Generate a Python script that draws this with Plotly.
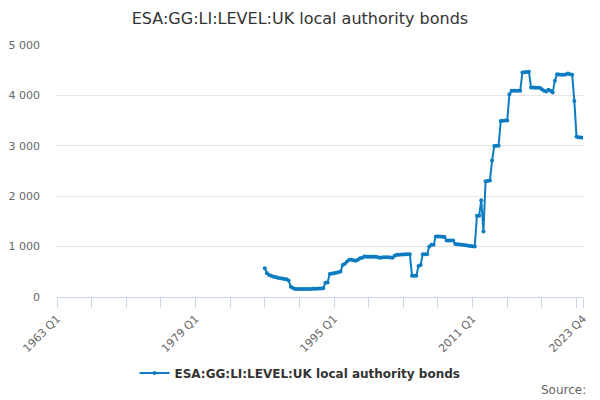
import plotly.graph_objects as go

# Quarter categories 1963 Q1 .. 2023 Q4
years = list(range(1963, 2024))
quarters = [f"{y} Q{q}" for y in years for q in range(1, 5)]

series_name = "ESA:GG:LI:LEVEL:UK local authority bonds"
start_label = "1987 Q1"

# Quarterly values from 1987 Q1 to 2023 Q4
v1987 = [572, 472, 438, 420]
v1988 = [404, 395, 380, 372]
v1989 = [365, 358, 352, 325]
v1990 = [205, 180, 159, 159]
v1991 = [158, 158, 158, 158]
v1992 = [160, 160, 162, 162]
v1993 = [165, 168, 170, 172]
v1994 = [285, 290, 458, 465]
v1995 = [472, 480, 490, 504]
v1996 = [637, 660, 703, 737]
v1997 = [737, 730, 717, 740]
v1998 = [771, 780, 803, 800]
v1999 = [800, 800, 800, 800]
v2000 = [795, 780, 785, 788]
v2001 = [790, 791, 785, 780]
v2002 = [820, 837, 840, 842]
v2003 = [845, 848, 850, 850]
v2004 = [424, 424, 424, 617]
v2005 = [637, 850, 850, 850]
v2006 = [1003, 1036, 1036, 1202]
v2007 = [1200, 1200, 1195, 1190]
v2008 = [1122, 1122, 1122, 1122]
v2009 = [1050, 1045, 1040, 1036]
v2010 = [1030, 1025, 1016, 1010]
v2011 = [1005, 1003, 1614, 1614]
v2012 = [1919, 1301, 2297, 2300]
v2013 = [2311, 2709, 2994, 3000]
v2014 = [3000, 3492, 3495, 3500]
v2015 = [3500, 4024, 4090, 4090]
v2016 = [4090, 4090, 4090, 4456]
v2017 = [4460, 4465, 4470, 4157]
v2018 = [4155, 4152, 4150, 4150]
v2019 = [4120, 4090, 4078, 4110]
v2020 = [4090, 4058, 4289, 4422]
v2021 = [4415, 4412, 4410, 4415]
v2022 = [4436, 4420, 4410, 3890]
v2023 = [3181, 3170, 3165, 3161]

values = (v1987 + v1988 + v1989 + v1990 + v1991 + v1992 + v1993 + v1994 + v1995
          + v1996 + v1997 + v1998 + v1999 + v2000 + v2001 + v2002 + v2003 + v2004
          + v2005 + v2006 + v2007 + v2008 + v2009 + v2010 + v2011 + v2012 + v2013
          + v2014 + v2015 + v2016 + v2017 + v2018 + v2019 + v2020 + v2021 + v2022
          + v2023)

start = quarters.index(start_label)
y_all = [None] * start + values

# Tick marks every 16 quarters plus last category; labels on a subset
tick_vals = quarters[::16] + [quarters[-1]]
labelled = {"1963 Q1", "1979 Q1", "1995 Q1", "2011 Q1", "2023 Q4"}
tick_text = [t if t in labelled else "" for t in tick_vals]

y_ticks = [0, 1000, 2000, 3000, 4000, 5000]

color = "#0d7cc1"
font = "DejaVu Sans, Lucida Grande, sans-serif"

fig = go.Figure()
fig.add_trace(go.Scatter(
    x=quarters, y=y_all, mode="lines+markers", name=series_name,
    line=dict(color=color, width=2),
    marker=dict(color=color, size=4),
    connectgaps=False,
))

# The page body adds an 8px offset, so the figure is 592x392
fig.update_layout(
    width=592, height=392,
    paper_bgcolor="white", plot_bgcolor="white",
    margin=dict(l=49, r=17, t=37, b=103, autoexpand=False),
    separators=". ",
    font=dict(family=font, color="#666666", size=11),
    title=dict(text=series_name, x=0.4932, xanchor="center", y=0.9745, yanchor="middle",
               font=dict(size=16, color="#333333", family=font)),
    showlegend=True,
    legend=dict(orientation="h", x=0.462, xanchor="center",
                y=-0.302, yanchor="middle",
                font=dict(size=12, color="#333333", family=font, weight="bold"),
                itemwidth=30),
    xaxis=dict(
        type="category", categoryorder="array", categoryarray=quarters,
        range=[0, len(quarters) - 1],
        tickmode="array", tickvals=tick_vals, ticktext=tick_text,
        tickangle=-45, ticks="outside", ticklen=10, tickcolor="#ccd6eb",
        showline=True, linecolor="#ccd6eb", linewidth=1,
        showgrid=False, zeroline=False, automargin=False,
        tickfont=dict(size=11, color="#666666"),
    ),
    yaxis=dict(
        range=[0, 5000], tickmode="array", tickvals=y_ticks,
        tickformat=",d",
        showgrid=True, gridcolor="#e6e6e6", gridwidth=1,
        zeroline=False, showline=False, automargin=False,
        ticklabelstandoff=16,
        tickfont=dict(size=11, color="#666666"),
    ),
    annotations=[dict(
        text="Source:", xref="paper", yref="paper", x=1.010, y=-0.3695,
        xanchor="right", yanchor="middle", showarrow=False,
        font=dict(size=12, color="#666666", family=font),
    )],
)

fig.write_html("out.html")
